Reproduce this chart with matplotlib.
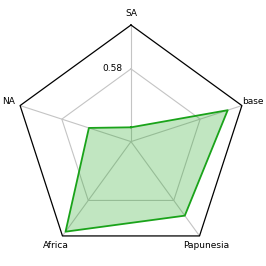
import numpy as np
import matplotlib
matplotlib.use('Agg')
import matplotlib.pyplot as plt

labels = ['SA', 'NA', 'Africa', 'Papunesia', 'base']
values = [0.114, 0.353, 0.888, 0.73, 0.811]
grid_vals = [0.58]
rmax = 0.93

n = len(labels)
theta = np.linspace(0, 2 * np.pi, n, endpoint=False)
closed = np.concatenate([theta, theta[:1]])

fig = plt.figure(figsize=(2.66, 2.66), dpi=100)
ax = fig.add_axes([0.0541, 0.0293, 0.8767, 0.8767], projection='polar')
ax.set_theta_offset(np.pi / 2)
ax.set_ylim(0, rmax)
ax.axis('off')

# spokes
for t in theta:
    ax.plot([t, t], [0, rmax], color='#c4c4c4', lw=0.8, zorder=1)
# grid polygon
for g in grid_vals:
    ax.plot(closed, [g] * (n + 1), color='#c4c4c4', lw=0.8, zorder=1)
    ax.annotate('%.2f' % g, (0, g), xytext=(-6, 0), textcoords='offset points',
                ha='right', va='center', fontsize=6.5)
# outer frame
ax.plot(closed, [rmax] * (n + 1), color='black', lw=0.9, zorder=2, clip_on=False)

# data
v = values + values[:1]
ax.fill(closed, v, color='#22a822', alpha=0.28, lw=0, zorder=3)
ax.plot(closed, v, color='#1aa31a', lw=1.3, zorder=4)

# axis labels
for t, lab in zip(theta, labels):
    ax.text(t, rmax * 1.1, lab, ha='center', va='center', fontsize=6.5, clip_on=False)

fig.savefig('out.png', dpi=100)
